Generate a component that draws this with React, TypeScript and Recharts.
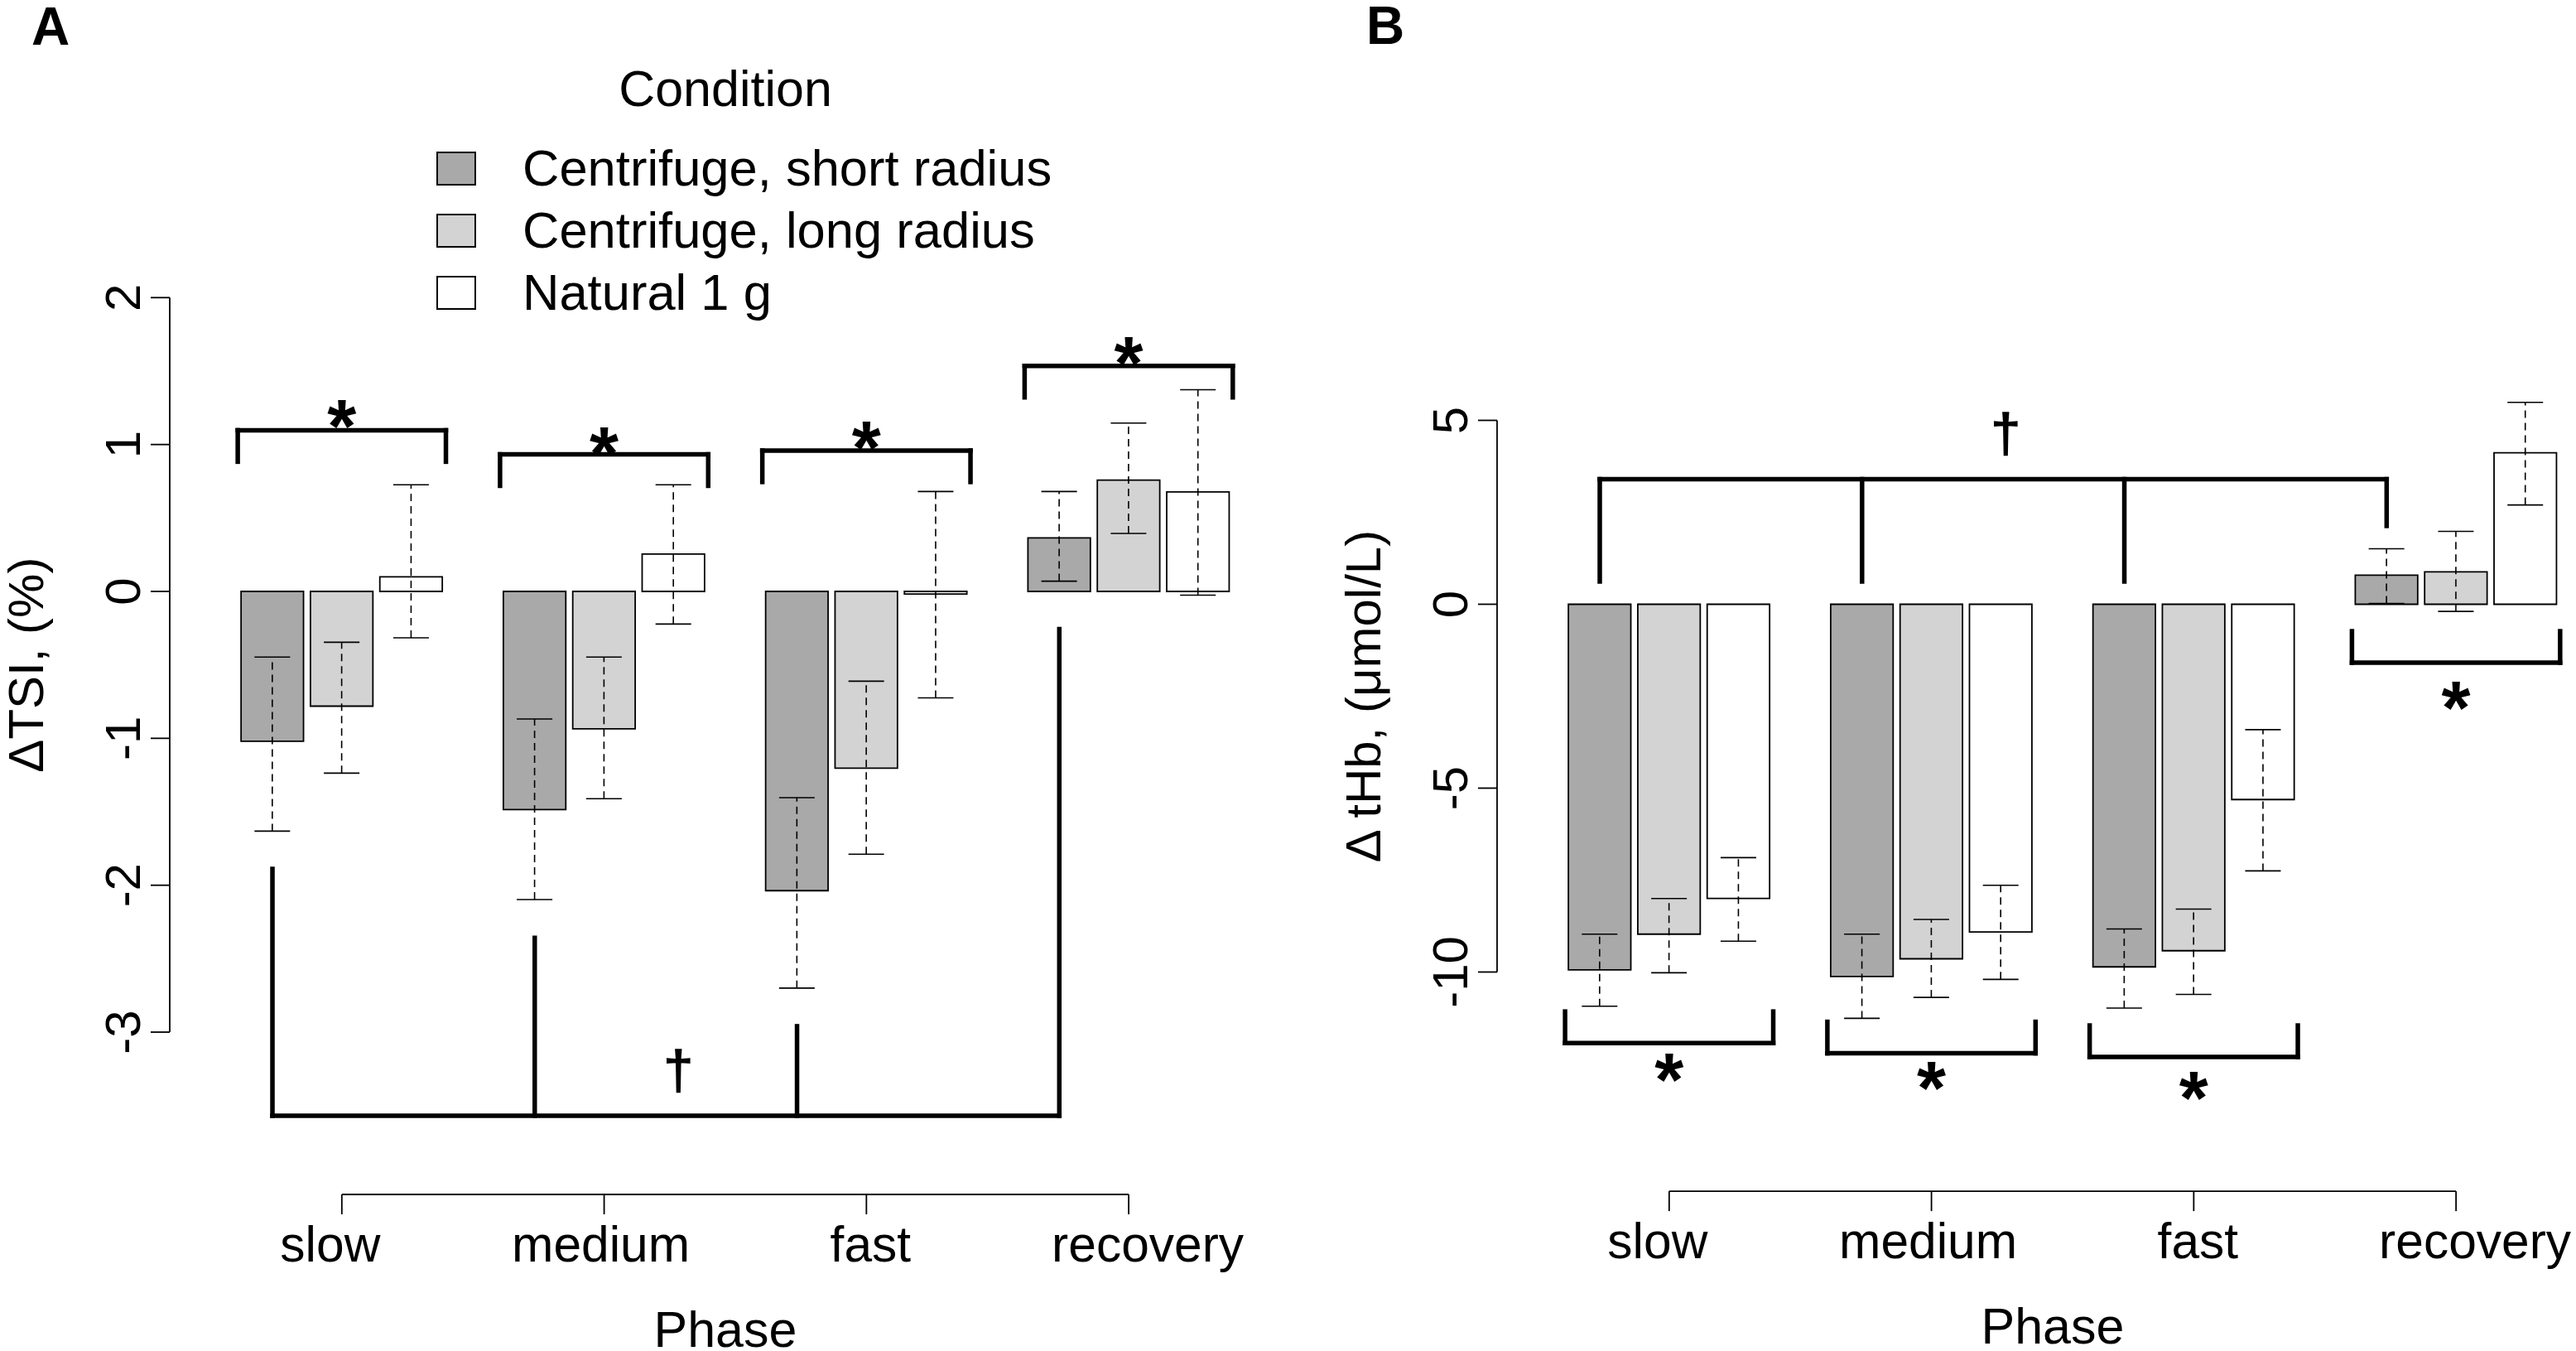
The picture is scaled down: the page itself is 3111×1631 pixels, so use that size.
import React from 'react';
import { BarChart, Bar, XAxis, YAxis, ErrorBar, Cell, ReferenceLine, ReferenceDot } from 'recharts';

const FONT = '"Liberation Sans", Arial, Helvetica, sans-serif';

// ---------- categories ----------
const phases = ['slow', 'medium', 'fast', 'recovery'];
const conditions = ['Centrifuge, short radius', 'Centrifuge, long radius', 'Natural 1 g'];
const conditionFills = ['#a9a9a9', '#d3d3d3', '#ffffff'];

// ---------- Panel A : ΔTSI (%) ----------
const tsiShortMean = [-1.02, -1.485, -2.037, 0.364];
const tsiShortLow = [-1.632, -2.098, -2.7, 0.07];
const tsiShortHigh = [-0.447, -0.868, -1.404, 0.68];
const tsiLongMean = [-0.781, -0.935, -1.203, 0.758];
const tsiLongLow = [-1.237, -1.411, -1.789, 0.395];
const tsiLongHigh = [-0.346, -0.447, -0.611, 1.146];
const tsiNaturalMean = [0.099, 0.254, -0.018, 0.677];
const tsiNaturalLow = [-0.316, -0.222, -0.725, -0.025];
const tsiNaturalHigh = [0.726, 0.726, 0.68, 1.373];
const tsiTicks = [-3, -2, -1, 0, 1, 2];
const tsiStarBracket = [1.097, 0.933, 0.959, 1.535];
const tsiStarMark = [1.229, 1.043, 1.083, 1.659];
const tsiDaggerLegEnd = [-1.889, -2.359, -2.96, -0.256];
const tsiDaggerBase = -3.57;
const tsiDaggerMark = -3.275;

// ---------- Panel B : Δ tHb (µmol/L) ----------
const thbShortMean = [-9.94, -10.12, -9.86, 0.79];
const thbShortLow = [-10.93, -11.26, -10.98, 0.02];
const thbShortHigh = [-8.97, -8.97, -8.83, 1.51];
const thbLongMean = [-8.97, -9.64, -9.42, 0.88];
const thbLongLow = [-10.02, -10.69, -10.61, -0.195];
const thbLongHigh = [-8.0, -8.57, -8.29, 1.98];
const thbNaturalMean = [-8.0, -8.91, -5.31, 4.12];
const thbNaturalLow = [-9.16, -10.2, -7.25, 2.7];
const thbNaturalHigh = [-6.89, -7.64, -3.41, 5.49];
const thbTicks = [-10, -5, 0, 5];
const thbStarBracket = [-11.93, -12.21, -12.31, -1.59];
const thbStarMark = [-12.51, -12.74, -13.0, -2.4];
const thbDaggerLegEnd = [0.62, 0.62, 0.62, 2.13];
const thbDaggerBase = 3.4;
const thbDaggerMark = 4.58;

// ---------- layout constants (x measured in bar widths) ----------
const GROUP_PITCH = 3.78;
const X_MIN = -1.48;
const X_MAX = 14;
const DAGGER_X = 5.85;
const BAR_PX = 84;
const LABEL_SHIFT_PX = [-14, -4, 5, 23];
const groupCenters = phases.map((_, g) => g * GROUP_PITCH + 1);

function buildRows(means: number[][], lows: number[][], highs: number[][]) {
  const rows: any[] = [];
  phases.forEach((_, g) => {
    conditions.forEach((__, k) => {
      const v = means[k][g];
      rows.push({
        pos: g * GROUP_PITCH + k,
        v,
        err: [v - lows[k][g], highs[k][g] - v],
        fill: conditionFills[k],
      });
    });
  });
  return rows;
}

const tsiRows = buildRows(
  [tsiShortMean, tsiLongMean, tsiNaturalMean],
  [tsiShortLow, tsiLongLow, tsiNaturalLow],
  [tsiShortHigh, tsiLongHigh, tsiNaturalHigh]
);
const thbRows = buildRows(
  [thbShortMean, thbLongMean, thbNaturalMean],
  [thbShortLow, thbLongLow, thbNaturalLow],
  [thbShortHigh, thbLongHigh, thbNaturalHigh]
);

const css = `
.recharts-errorBar > line:nth-child(2),
.recharts-errorBar > g:nth-child(2) line { stroke-dasharray: 9 6; }
`;

const XTick = (props: any) => {
  const { x, y, payload } = props;
  const g = Math.round((payload.value - 1) / GROUP_PITCH);
  const lx = x + (LABEL_SHIFT_PX[g] || 0);
  return (
    <text x={lx} y={y} textAnchor="middle" fontSize={60.5} fontFamily={FONT} fill="#000">
      {phases[g]}
    </text>
  );
};

const YTick = (props: any) => {
  const { x, y, payload } = props;
  return (
    <text
      x={x}
      y={y}
      transform={`rotate(-90, ${x}, ${y})`}
      textAnchor="middle"
      fontSize={60}
      fontFamily={FONT}
      fill="#000"
    >
      {String(payload.value)}
    </text>
  );
};

const Star = (props: any) => (
  <text x={props.cx} y={props.cy + 50} textAnchor="middle" fontSize={90} fontWeight="bold" fontFamily={FONT} fill="#000">
    *
  </text>
);

const Dagger = (props: any) => (
  <text
    x={props.cx}
    y={props.cy + 19}
    textAnchor="middle"
    fontSize={64}
    fontFamily={FONT}
    fill="#000"
    stroke="#000"
    strokeWidth={1.6}
  >
    †
  </text>
);

type PanelCfg = {
  left: number;
  width: number;
  marginLeft: number;
  marginTop: number;
  xAxisHeight: number;
  yDomain: [number, number];
  yTicks: number[];
  rows: any[];
  yLabel: string;
  yLabelGap: number;
  starBracket: number[];
  starMark: number[];
  legOffset: number;
  daggerLegEnd: number[];
  daggerBase: number;
  daggerMark: number;
};

function Panel({ cfg }: { cfg: PanelCfg }) {
  const H = 1631;
  const yAxisW = 150;
  const plotW = (X_MAX - X_MIN) * 83.8;
  const marginRight = cfg.width - cfg.marginLeft - yAxisW - plotW;
  const bracket = { stroke: '#000', strokeWidth: 5.5, strokeLinecap: 'square' as const, ifOverflow: 'visible' as const };
  const refs: any[] = [];

  phases.forEach((_, g) => {
    const xL = g * GROUP_PITCH - 0.5;
    const xR = g * GROUP_PITCH + 2.5;
    const lvl = cfg.starBracket[g];
    const end = lvl + cfg.legOffset;
    refs.push(<ReferenceLine key={`sb${g}`} segment={[{ x: xL, y: lvl }, { x: xR, y: lvl }]} {...bracket} />);
    refs.push(<ReferenceLine key={`sl${g}`} segment={[{ x: xL, y: lvl }, { x: xL, y: end }]} {...bracket} />);
    refs.push(<ReferenceLine key={`sr${g}`} segment={[{ x: xR, y: lvl }, { x: xR, y: end }]} {...bracket} />);
    refs.push(
      <ReferenceDot key={`sm${g}`} x={g * GROUP_PITCH + 1} y={cfg.starMark[g]} r={0} ifOverflow="visible" shape={Star} />
    );
    refs.push(
      <ReferenceLine
        key={`dl${g}`}
        segment={[{ x: g * GROUP_PITCH, y: cfg.daggerBase }, { x: g * GROUP_PITCH, y: cfg.daggerLegEnd[g] }]}
        {...bracket}
      />
    );
  });
  refs.push(
    <ReferenceLine
      key="db"
      segment={[{ x: 0, y: cfg.daggerBase }, { x: 3 * GROUP_PITCH, y: cfg.daggerBase }]}
      {...bracket}
    />
  );
  refs.push(<ReferenceDot key="dm" x={DAGGER_X} y={cfg.daggerMark} r={0} ifOverflow="visible" shape={Dagger} />);

  const yLo = cfg.yTicks[0];
  const yHi = cfg.yTicks[cfg.yTicks.length - 1];

  return (
    <div style={{ position: 'absolute', left: cfg.left, top: 0, width: cfg.width, height: H }}>
      <BarChart
        width={cfg.width}
        height={H}
        data={cfg.rows}
        margin={{ top: cfg.marginTop, left: cfg.marginLeft, right: marginRight, bottom: 0 }}
        barCategoryGap={0}
        barGap={0}
      >
        <XAxis
          type="number"
          dataKey="pos"
          domain={[X_MIN, X_MAX]}
          allowDataOverflow
          ticks={groupCenters}
          interval={0}
          height={cfg.xAxisHeight}
          axisLine={false}
          tickLine={{ stroke: '#000', strokeWidth: 1.8 }}
          tickSize={24}
          tickMargin={57}
          tick={XTick}
        />
        <YAxis
          type="number"
          domain={cfg.yDomain}
          allowDataOverflow
          ticks={cfg.yTicks}
          interval={0}
          width={yAxisW}
          axisLine={false}
          tickLine={{ stroke: '#000', strokeWidth: 1.8 }}
          tickSize={23}
          tickMargin={13}
          tick={YTick}
        />
        <Bar dataKey="v" isAnimationActive={false} stroke="#000" strokeWidth={1.8} barSize={BAR_PX}>
          {cfg.rows.map((r, i) => (
            <Cell key={i} fill={r.fill} />
          ))}
          <ErrorBar dataKey="err" direction="y" width={21.5} stroke="#000" strokeWidth={1.6} isAnimationActive={false} />
        </Bar>
        <ReferenceLine
          segment={[{ x: X_MIN, y: yLo }, { x: X_MIN, y: yHi }]}
          stroke="#000"
          strokeWidth={1.8}
          ifOverflow="visible"
          label={(p: any) => {
            const vb = p.viewBox;
            const lx = vb.x - cfg.yLabelGap;
            const ly = vb.y + vb.height / 2;
            return (
              <text
                x={lx}
                y={ly}
                transform={`rotate(-90, ${lx}, ${ly})`}
                textAnchor="middle"
                fontSize={60}
                fontFamily={FONT}
                fill="#000"
              >
                {cfg.yLabel}
              </text>
            );
          }}
        />
        <ReferenceLine
          segment={[{ x: groupCenters[0], y: cfg.yDomain[0] }, { x: groupCenters[3], y: cfg.yDomain[0] }]}
          stroke="#000"
          strokeWidth={1.8}
          ifOverflow="visible"
          label={(p: any) => {
            const vb = p.viewBox;
            return (
              <text
                x={vb.x + vb.width / 2 - 12}
                y={vb.y + 184}
                textAnchor="middle"
                fontSize={61}
                fontFamily={FONT}
                fill="#000"
              >
                Phase
              </text>
            );
          }}
        />
        {refs}
      </BarChart>
    </div>
  );
}

const panelA: PanelCfg = {
  left: 0,
  width: 1510,
  marginLeft: 55,
  marginTop: 359.3,
  xAxisHeight: 1631 - 1442,
  yDomain: [-4.105, 2],
  yTicks: tsiTicks,
  rows: tsiRows,
  yLabel: 'ΔTSI, (%)',
  yLabelGap: 153,
  starBracket: tsiStarBracket,
  starMark: tsiStarMark,
  legOffset: -0.214,
  daggerLegEnd: tsiDaggerLegEnd,
  daggerBase: tsiDaggerBase,
  daggerMark: tsiDaggerMark,
};

const panelB: PanelCfg = {
  left: 1560,
  width: 1551,
  marginLeft: 98,
  marginTop: 476.4,
  xAxisHeight: 1631 - 1438.1,
  yDomain: [-15.96, 5.7],
  yTicks: thbTicks,
  rows: thbRows,
  yLabel: 'Δ tHb, (μmol/L)',
  yLabelGap: 141,
  starBracket: thbStarBracket,
  starMark: thbStarMark,
  legOffset: 0.856,
  daggerLegEnd: thbDaggerLegEnd,
  daggerBase: thbDaggerBase,
  daggerMark: thbDaggerMark,
};

function Overlay() {
  return (
    <svg
      width={3111}
      height={1631}
      style={{ position: 'absolute', left: 0, top: 0, pointerEvents: 'none' }}
    >
      <text x={38} y={54} fontSize={64} fontWeight="bold" fontFamily={FONT} fill="#000">A</text>
      <text x={1650} y={53} fontSize={64} fontWeight="bold" fontFamily={FONT} fill="#000">B</text>
      <text x={876} y={128} textAnchor="middle" fontSize={61} fontFamily={FONT} fill="#000">Condition</text>
      {conditions.map((c, i) => (
        <g key={c}>
          <rect
            x={528}
            y={184 + 75 * i}
            width={46}
            height={39}
            fill={conditionFills[i]}
            stroke="#000"
            strokeWidth={2}
          />
          <text x={631} y={224 + 75 * i} fontSize={61.5} fontFamily={FONT} fill="#000">
            {c}
          </text>
        </g>
      ))}
    </svg>
  );
}

export default function App() {
  return (
    <div
      style={{
        position: 'absolute',
        left: 0,
        top: 0,
        width: 3111,
        height: 1631,
        overflow: 'hidden',
        background: '#fff',
      }}
    >
      <style>{css}</style>
      <Panel cfg={panelA} />
      <Panel cfg={panelB} />
      <Overlay />
    </div>
  );
}
